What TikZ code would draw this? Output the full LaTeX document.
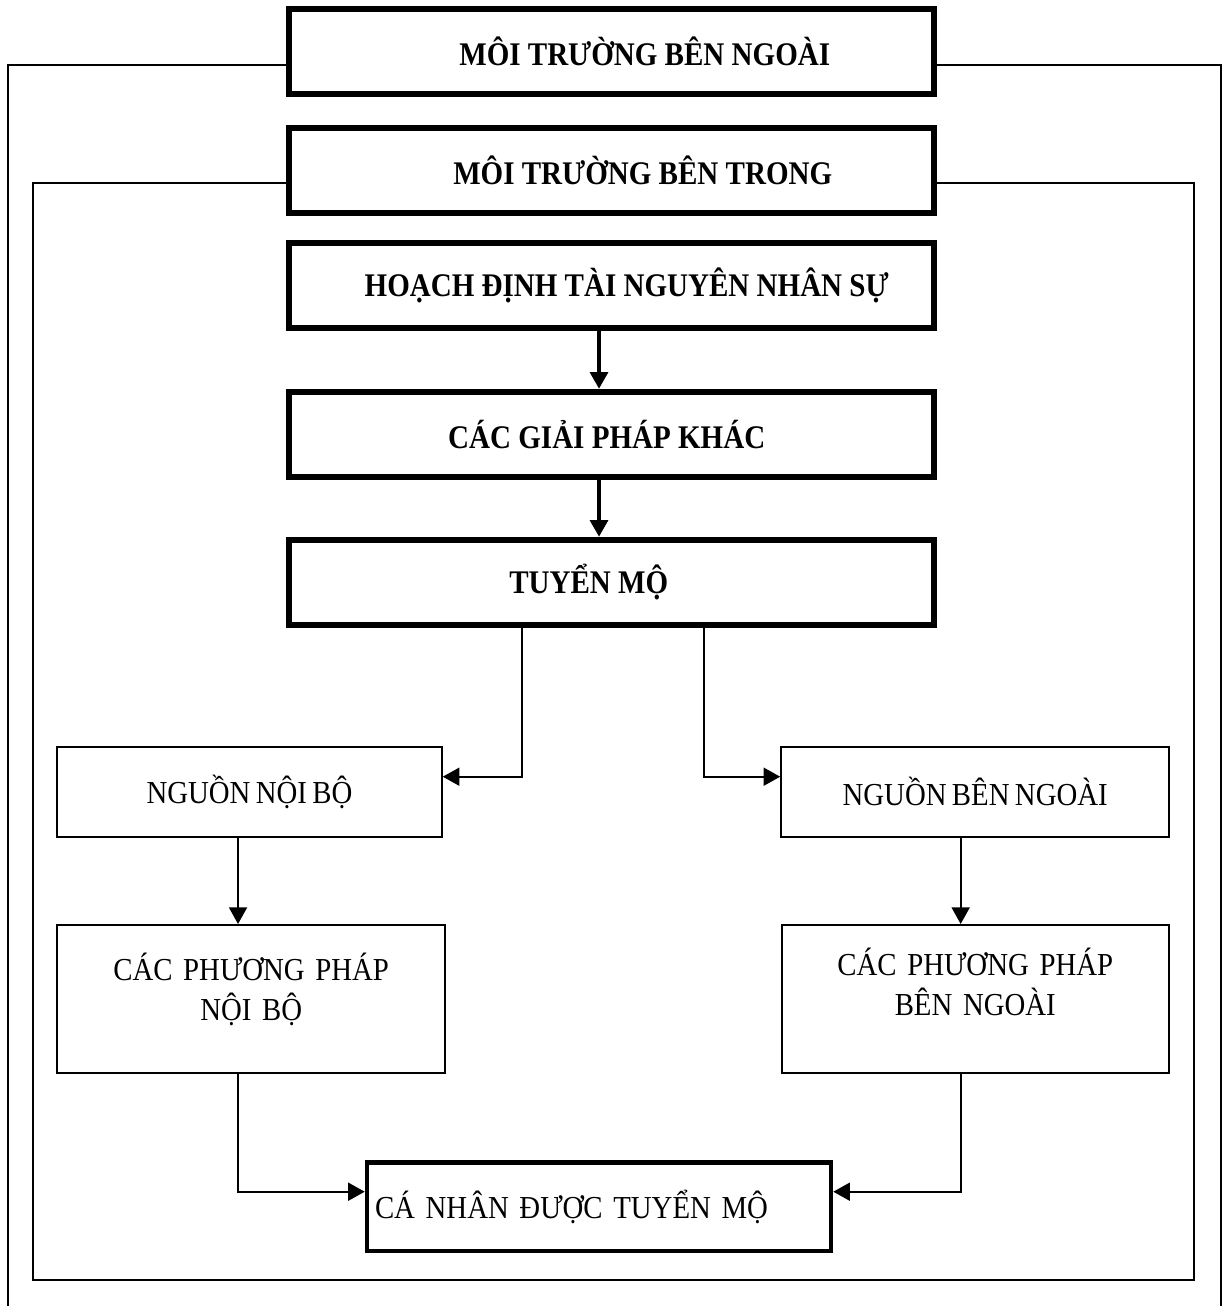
\documentclass[tikz,border=0pt]{standalone}
\usepackage{fontspec}
\setmainfont{Liberation Serif}[BoldFeatures={FakeStretch=0.88}]
\newfontfamily\bodyfont{Liberation Serif}[FakeStretch=0.9, WordSpace=0.75]
\usetikzlibrary{arrows.meta}

\tikzset{every picture/.style={line width=1.5pt}}
\tikzset{
	thickbox/.style={draw, line width=4.5pt, minimum width=483.4pt, minimum height=63.75pt, inner sep=0pt, font=\fontsize{24.75pt}{30pt}\selectfont\bfseries},
	thinbox/.style={draw, line width=1.6pt, inner sep=0pt, align=center, font=\bodyfont\fontsize{24pt}{30pt}\selectfont},
	link/.style={line width=1.5pt, -{Triangle[length=12.5pt,width=13.5pt]}},
	flow/.style={line width=2.5pt, -{Triangle[length=12.5pt,width=13.5pt]}}}

\begin{document}
\begin{tikzpicture}[x=0.75pt,y=0.75pt,yscale=-1,xscale=1]
	\useasboundingbox (0,0) rectangle (1225,1306);

	% Thick boxes
	\node[thickbox] (ngoai) at (611.75,51.75) {\hspace*{49.5pt}MÔI TRƯỜNG BÊN NGOÀI};
	\node[thickbox] (trong) at (611.75,170.5) {\hspace*{46.5pt}MÔI TRƯỜNG BÊN TRONG};
	\node[thickbox] (hoach) at (611.75,285.9) {\hspace*{22.5pt}HOẠCH ĐỊNH TÀI NGUYÊN NHÂN SỰ};
	\node[thickbox] (khac) at (611.75,434.2) {CÁC GIẢI PHÁP KHÁC\hspace*{7.5pt}};
	\node[thickbox] (tuyen) at (611.75,582.2) {TUYỂN MỘ\hspace*{34.5pt}};

	% Sources
	\node[thinbox, minimum width=288.3pt, minimum height=67.5pt] (nguonnb) at (249.5,791.7) {NGUỒN NỘI BỘ};
	\node[thinbox, minimum width=290.9pt, minimum height=67.5pt] (nguonbn) at (975.2,791.7) {NGUỒN BÊN NGOÀI};

	% Methods
	\node[thinbox, minimum width=290.8pt, minimum height=111.2pt, text width=290pt, text height=20pt, text depth=48.8pt] (ppnb) at (251.2,999.2) {CÁC PHƯƠNG PHÁP\\NỘI BỘ};
	\node[thinbox, minimum width=290.5pt, minimum height=111.2pt, text width=290pt, text height=20pt, text depth=56.3pt] (ppbn) at (975.3,999.2) {CÁC PHƯƠNG PHÁP\\BÊN NGOÀI};

	% Result
	\node[thinbox, line width=3.4pt, minimum width=348pt, minimum height=66.2pt, text width=336pt, align=left] (canhan) at (599,1206.7) {CÁ NHÂN ĐƯỢC TUYỂN MỘ};

	% Frames
	\coordinate (outerbl) at (8,1306);
	\coordinate (outerbr) at (1220.7,1306);
	\coordinate (innerbl) at (33.3,1280);
	\coordinate (innerbr) at (1194.3,1280);
	\draw ([yshift=10.3pt]ngoai.west) -| (outerbl);
	\draw ([yshift=10.3pt]ngoai.east) -| (outerbr);
	\draw ([yshift=9.4pt]trong.west) -| (innerbl) -- (innerbr) |- ([yshift=9.4pt]trong.east);

	% Main flow
	\draw[flow] ([xshift=-9.56pt]hoach.south) -- ([xshift=-9.56pt]khac.north);
	\draw[flow] ([xshift=-9.56pt]khac.south) -- ([xshift=-9.56pt]tuyen.north);

	% Branches
	\draw[link] ([xshift=-67.3pt]tuyen.south) |- ([yshift=-11.25pt]nguonnb.east);
	\draw[link] ([xshift=69.2pt]tuyen.south) |- ([yshift=-11.25pt]nguonbn.west);
	\draw[link] ([xshift=-8.6pt]nguonnb.south) -- ([xshift=-8.6pt]nguonnb.south |- ppnb.north);
	\draw[link] ([xshift=-10.9pt]nguonbn.south) -- ([xshift=-10.9pt]nguonbn.south |- ppbn.north);
	\draw[link] ([xshift=-8.6pt]nguonnb.south |- ppnb.south) |- ([yshift=-11.25pt]canhan.west);
	\draw[link] ([xshift=-10.9pt]nguonbn.south |- ppbn.south) |- ([yshift=-11.25pt]canhan.east);

\end{tikzpicture}
\end{document}
